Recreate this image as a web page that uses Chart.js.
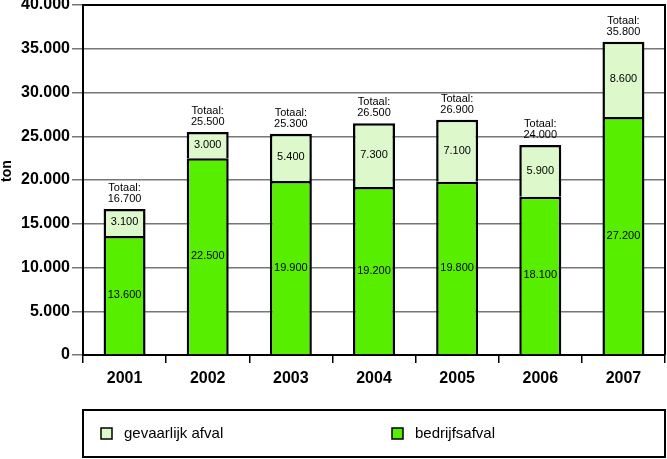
<!DOCTYPE html>
<html>
<head>
<meta charset="utf-8">
<script src="https://cdn.jsdelivr.net/npm/chart.js@4/dist/chart.umd.min.js"></script>
<style>
  html, body { margin: 0; padding: 0; background: #fff; }
  #wrap { width: 667px; height: 459px; position: relative; }
</style>
</head>
<body>
<div id="wrap"><canvas id="chart"></canvas></div>
<script>
// Afval per jaar (ton)
const years = ['2001', '2002', '2003', '2004', '2005', '2006', '2007'];
const bedrijfsafval = [13600, 22500, 19900, 19200, 19800, 18100, 27200];
const gevaarlijkAfval = [3100, 3000, 5400, 7300, 7100, 5900, 8600];
const yTicks = [0, 5000, 10000, 15000, 20000, 25000, 30000, 35000, 40000];

const GREEN = '#58ee00';
const LIGHT = '#ddf9cc';
const FONT = '"Liberation Sans", Arial, sans-serif';

function fmt(n) {
  return n.toString().replace(/\B(?=(\d{3})+(?!\d))/g, '.');
}

// Segment values, totals, plot frame, axis title and legend box
const labelPlugin = {
  id: 'labels',
  afterDatasetsDraw(chart) {
    const ctx = chart.ctx;
    const area = chart.chartArea;
    ctx.save();
    // frame top + right
    ctx.strokeStyle = '#000';
    ctx.lineWidth = 2;
    ctx.beginPath();
    ctx.moveTo(area.left, area.top);
    ctx.lineTo(area.right, area.top);
    ctx.lineTo(area.right, area.bottom);
    ctx.stroke();

    ctx.fillStyle = '#000';
    ctx.font = '11px ' + FONT;
    ctx.textAlign = 'center';
    ctx.textBaseline = 'middle';
    chart.data.datasets.forEach((ds, i) => {
      chart.getDatasetMeta(i).data.forEach((bar, j) => {
        const mid = (bar.y + bar.base) / 2;
        ctx.fillText(fmt(ds.data[j]), bar.x, mid);
      });
    });
    chart.getDatasetMeta(1).data.forEach((bar, j) => {
      const total = bedrijfsafval[j] + gevaarlijkAfval[j];
      ctx.fillText('Totaal:', bar.x, bar.y - 21);
      ctx.fillText(fmt(total), bar.x, bar.y - 10);
    });

    // y axis title
    ctx.save();
    ctx.translate(7, 171);
    ctx.rotate(-Math.PI / 2);
    ctx.font = 'bold 14px ' + FONT;
    ctx.fillText('ton', 0, 0);
    ctx.restore();

    // legend
    ctx.lineWidth = 2;
    ctx.strokeRect(area.left, 410, area.right - area.left, 47);
    const items = [
      { label: 'gevaarlijk afval', color: LIGHT, x: 101 },
      { label: 'bedrijfsafval', color: GREEN, x: 392 }
    ];
    ctx.font = '15px ' + FONT;
    ctx.textAlign = 'left';
    items.forEach(it => {
      ctx.fillStyle = it.color;
      ctx.fillRect(it.x, 428, 11, 11);
      ctx.strokeStyle = '#000';
      ctx.lineWidth = 1.5;
      ctx.strokeRect(it.x, 428, 11, 11);
      ctx.fillStyle = '#000';
      ctx.fillText(it.label, it.x + 23, 434);
    });
    ctx.restore();
  }
};

new Chart(document.getElementById('chart'), {
  type: 'bar',
  data: {
    labels: years,
    datasets: [
      {
        label: 'bedrijfsafval',
        data: bedrijfsafval,
        backgroundColor: GREEN,
        borderColor: '#000',
        borderWidth: 2.5,
        borderSkipped: 'bottom'
      },
      {
        label: 'gevaarlijk afval',
        data: gevaarlijkAfval,
        backgroundColor: LIGHT,
        borderColor: '#000',
        borderWidth: 2.5,
        borderSkipped: 'bottom'
      }
    ]
  },
  options: {
    responsive: true,
    maintainAspectRatio: false,
    animation: false,
    categoryPercentage: 1,
    barPercentage: 0.505,
    layout: { padding: { top: 5, right: 2, bottom: 0, left: 0 } },
    plugins: {
      legend: { display: false },
      tooltip: { enabled: false }
    },
    scales: {
      x: {
        stacked: true,
        afterFit: s => { s.height = 104; s.paddingLeft = 0; s.paddingRight = 0; },
        grid: {
          offset: true,
          drawOnChartArea: false,
          tickLength: 8,
          color: '#000',
          lineWidth: 1.5
        },
        border: { color: '#000', width: 2 },
        ticks: {
          color: '#000',
          padding: 6,
          font: { family: FONT, size: 16, weight: 'bold' }
        }
      },
      y: {
        stacked: true,
        min: 0,
        max: 40000,
        afterFit: s => { s.width = 83; s.paddingTop = 0; s.paddingBottom = 0; },
        afterBuildTicks: s => { s.ticks = yTicks.map(v => ({ value: v })); },
        grid: {
          color: '#777',
          lineWidth: 1.5,
          tickLength: 11
        },
        border: { color: '#000', width: 2 },
        ticks: {
          color: '#000',
          padding: 2,
          callback: v => fmt(v),
          font: { family: FONT, size: 16, weight: 'bold' }
        }
      }
    }
  },
  plugins: [labelPlugin]
});
</script>
</body>
</html>
